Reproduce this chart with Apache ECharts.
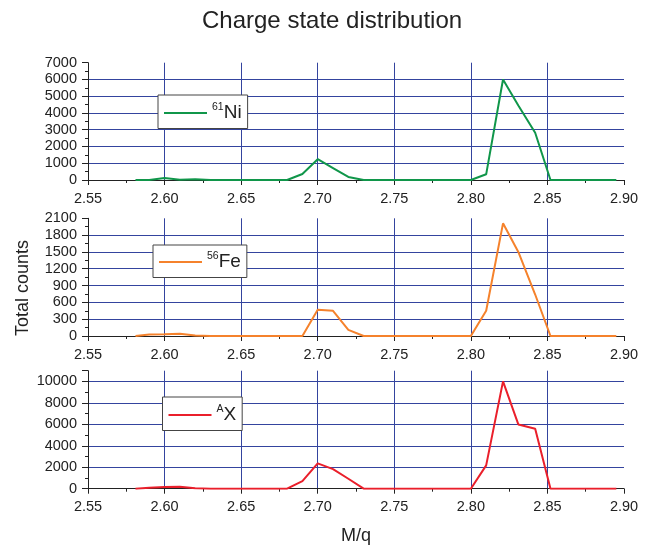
<!DOCTYPE html>
<html>
<head>
<meta charset="utf-8">
<script src="https://cdn.jsdelivr.net/npm/echarts@6/dist/echarts.min.js"></script>
<style>
html,body{margin:0;padding:0;background:#fff;}
#chart{width:647px;height:548px;}
</style>
</head>
<body>
<div id="chart"></div>
<script>
// M/q positions of the measured points
const mq = [2.581, 2.590, 2.600, 2.610, 2.620, 2.630, 2.640, 2.650, 2.660, 2.670,
            2.680, 2.690, 2.700, 2.710, 2.720, 2.730, 2.740, 2.750, 2.760, 2.770,
            2.780, 2.790, 2.800, 2.810, 2.821, 2.831, 2.842, 2.852, 2.862, 2.873,
            2.884, 2.895];
// Total counts per panel
const ni61 = [0, 0, 120, 20, 40, 0, 0, 0, 0, 0,
              0, 360, 1240, 710, 180, 0, 0, 0, 0, 0,
              0, 0, 0, 340, 6000, 4450, 2820, 0, 0, 0,
              0, 0];
const fe56 = [0, 25, 30, 40, 10, 0, 0, 0, 0, 0,
              0, 0, 470, 450, 110, 0, 0, 0, 0, 0,
              0, 0, 0, 450, 2010, 1500, 740, 0, 0, 0,
              0, 0];
const ax   = [0, 80, 150, 180, 40, 0, 0, 0, 0, 0,
              0, 710, 2360, 1830, 930, 0, 0, 0, 0, 0,
              0, 0, 0, 2170, 10000, 5990, 5590, 0, 0, 0,
              0, 0];
const seriesNames = ['Ni61', 'Fe56', 'AX'];
const supLabels = ['61', '56', 'A'];
const elLabels = ['Ni', 'Fe', 'X'];
const seriesValues = [ni61, fe56, ax];
const yMax = [7000, 2100, 11000];
const yInterval = [1000, 300, 2000];
const xMin = 2.55, xMax = 2.90, xInterval = 0.05;

const colors = ['#10964a', '#f5822c', '#ea1f2b'];
const FONT = 'Liberation Sans, Arial, Helvetica, sans-serif';
const gridTops = [62.7, 218.3, 370.7];
const gridH = [117.3, 117.7, 118];
const legendPos = [
  {left: 158, top: 95, padding: [7, 6, 6, 6]},
  {left: 153, top: 245, padding: [6, 6, 6, 6]},
  {left: 162.5, top: 397, padding: [7, 6, 6, 6]}
];
const gridColor = '#34449e';

const chart = echarts.init(document.getElementById('chart'), null, {renderer: 'canvas'});

const grids = [], xAxes = [], yAxes = [], series = [], legends = [];
for (let i = 0; i < 3; i++) {
  grids.push({left: 88, right: 23, top: gridTops[i], height: gridH[i], containLabel: false});
  xAxes.push({
    type: 'value', gridIndex: i, min: xMin, max: xMax, interval: xInterval,
    axisLine: {show: true, onZero: false, lineStyle: {color: '#222', width: 1}},
    axisTick: {show: true, inside: false, length: 5, lineStyle: {color: '#222'}},
    minorTick: {show: true, splitNumber: 2, length: 3, lineStyle: {color: '#222'}},
    splitLine: {show: true, showMinLine: false, showMaxLine: false, lineStyle: {color: gridColor, width: 1}},
    axisLabel: {color: '#222', fontSize: 14.5, fontFamily: FONT, margin: 11,
                formatter: v => v.toFixed(2)},
    name: i === 2 ? 'M/q' : '',
    nameLocation: 'middle', nameGap: 38,
    nameTextStyle: {color: '#222', fontSize: 18, fontFamily: FONT}
  });
  yAxes.push({
    type: 'value', gridIndex: i, min: 0, max: yMax[i], interval: yInterval[i],
    axisLine: {show: true, lineStyle: {color: '#222', width: 1}},
    axisTick: {show: true, inside: false, length: 6, lineStyle: {color: '#222'}},
    minorTick: {show: true, splitNumber: 2, length: 3, lineStyle: {color: '#222'}},
    splitLine: {show: true, showMinLine: false, showMaxLine: false, lineStyle: {color: gridColor, width: 1}},
    axisLabel: {color: '#222', fontSize: 14.5, fontFamily: FONT, margin: 11, showMaxLabel: i !== 2,
                formatter: v => String(v)}
  });
  series.push({
    name: seriesNames[i], type: 'line', xAxisIndex: i, yAxisIndex: i,
    data: mq.map((x, k) => [x, seriesValues[i][k]]),
    symbol: 'none', showSymbol: false,
    lineStyle: {color: colors[i], width: 2},
    itemStyle: {color: colors[i]},
    z: 3, animation: false
  });
  legends.push({
    data: [{name: seriesNames[i], icon: 'rect'}],
    left: legendPos[i].left, top: legendPos[i].top, padding: legendPos[i].padding,
    orient: 'horizontal',
    backgroundColor: '#fff', borderColor: '#444', borderWidth: 1,
    itemWidth: 43, itemHeight: 2,
    itemStyle: {color: colors[i], borderWidth: 0},
    lineStyle: {width: 0},
    selectedMode: false,
    formatter: (function (idx) { return function () { return '{sup|' + supLabels[idx] + '}{el|' + elLabels[idx] + '}'; }; })(i),
    textStyle: {
      fontFamily: FONT, color: '#222',
      rich: {
        sup: {fontSize: 10.5, fontFamily: FONT, color: '#222', lineHeight: 10, verticalAlign: 'top'},
        el: {fontSize: 19, fontFamily: FONT, color: '#222', lineHeight: 22}
      }
    }
  });
}

chart.setOption({
  animation: false,
  backgroundColor: '#fff',
  title: {
    text: 'Charge state distribution', left: 197, top: 4,
    textStyle: {fontSize: 24, fontWeight: 'normal', color: '#222', fontFamily: FONT}
  },
  grid: grids, xAxis: xAxes, yAxis: yAxes, series: series, legend: legends,
  graphic: [{
    type: 'text', x: 23, y: 288, rotation: Math.PI / 2,
    style: {text: 'Total counts', fontSize: 18, fontFamily: FONT, fill: '#222',
            align: 'center', verticalAlign: 'middle'}
  }]
});
</script>
</body>
</html>
